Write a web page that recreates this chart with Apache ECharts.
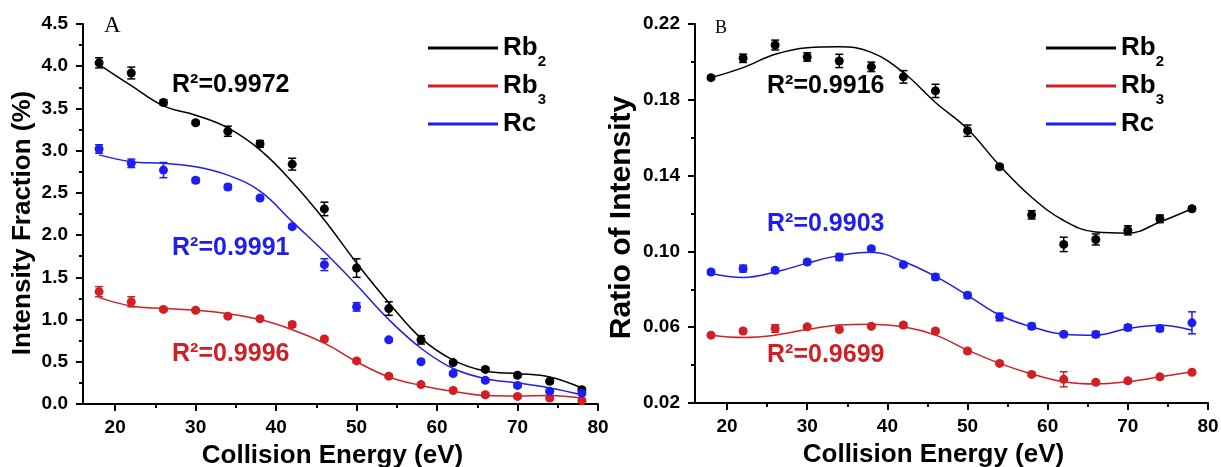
<!DOCTYPE html>
<html>
<head>
<meta charset="utf-8">
<script src="https://cdn.jsdelivr.net/npm/echarts@6.0.0/dist/echarts.min.js"></script>
<style>
    html, body { margin: 0; padding: 0; background: #fff; }
    #main { width: 1221px; height: 467px; }
</style>
</head>
<body>
<div id="main"></div>
<script>
// collision energy (eV)
let energy = [18, 22, 26, 30, 34, 38, 42, 46, 50, 54, 58, 62, 66, 70, 74, 78];
let majorTicks = [20, 30, 40, 50, 60, 70, 80];
let minorTicks = [25, 35, 45, 55, 65, 75];

// A: intensity fraction (%)
let rb2A = [4.04, 3.92, 3.57, 3.33, 3.23, 3.08, 2.84, 2.31, 1.61, 1.13, 0.76, 0.49, 0.41, 0.34, 0.27, 0.17];
let rb2ErrA = [0.06, 0.07, 0.03, 0.02, 0.06, 0.04, 0.07, 0.08, 0.11, 0.08, 0.05, 0.02, 0.02, 0.02, 0.02, 0.02];
let rb2FitA = [4.02, 3.77, 3.53, 3.42, 3.27, 3.01, 2.63, 2.18, 1.67, 1.20, 0.78, 0.52, 0.39, 0.36, 0.32, 0.19];
let rb3A = [1.33, 1.21, 1.12, 1.11, 1.04, 1.01, 0.94, 0.77, 0.51, 0.33, 0.23, 0.16, 0.11, 0.09, 0.07, 0.04];
let rb3ErrA = [0.06, 0.06, 0.02, 0.02, 0.02, 0.02, 0.03, 0.02, 0.02, 0.02, 0.02, 0.02, 0.02, 0.02, 0.02, 0.02];
let rb3FitA = [1.26, 1.16, 1.13, 1.11, 1.07, 1.00, 0.88, 0.72, 0.50, 0.32, 0.22, 0.15, 0.10, 0.095, 0.10, 0.07];
let rcA = [3.02, 2.85, 2.77, 2.65, 2.57, 2.44, 2.10, 1.65, 1.15, 0.76, 0.50, 0.36, 0.28, 0.22, 0.15, 0.13];
let rcErrA = [0.05, 0.05, 0.09, 0.03, 0.03, 0.02, 0.02, 0.07, 0.05, 0.02, 0.02, 0.02, 0.02, 0.02, 0.02, 0.02];
let rcFitA = [2.95, 2.87, 2.85, 2.81, 2.71, 2.52, 2.16, 1.80, 1.41, 1.00, 0.66, 0.42, 0.30, 0.25, 0.19, 0.11];

// B: ratio of intensity
let rb2B = [0.1917, 0.2019, 0.2089, 0.2026, 0.2005, 0.1974, 0.1921, 0.1847, 0.1637, 0.1447, 0.1193, 0.1037, 0.1063, 0.1111, 0.1172, 0.1225];
let rb2ErrB = [0.001, 0.0022, 0.0026, 0.0022, 0.0035, 0.0025, 0.0033, 0.0035, 0.003, 0.001, 0.0022, 0.0038, 0.0029, 0.0024, 0.002, 0.001];
let rb2FitB = [0.1917, 0.197, 0.204, 0.2075, 0.208, 0.205, 0.1944, 0.1786, 0.1646, 0.1453, 0.1286, 0.1163, 0.1102, 0.1096, 0.1155, 0.1225];
let rb3B = [0.0558, 0.058, 0.0593, 0.0602, 0.0588, 0.0605, 0.0611, 0.058, 0.0474, 0.0409, 0.0351, 0.0325, 0.0309, 0.0317, 0.0338, 0.0362];
let rb3ErrB = [0.0008, 0.001, 0.002, 0.001, 0.001, 0.001, 0.0012, 0.001, 0.001, 0.001, 0.001, 0.004, 0.001, 0.001, 0.001, 0.001];
let rb3FitB = [0.0558, 0.0546, 0.0558, 0.0588, 0.0611, 0.0616, 0.0602, 0.0558, 0.0479, 0.0409, 0.0353, 0.0312, 0.030, 0.0312, 0.0338, 0.0365];
let rcB = [0.0891, 0.0909, 0.090, 0.0944, 0.097, 0.1014, 0.093, 0.0865, 0.0768, 0.0654, 0.0605, 0.0563, 0.0562, 0.0598, 0.0593, 0.0623];
let rcErrB = [0.001, 0.0018, 0.0012, 0.001, 0.0018, 0.001, 0.001, 0.0015, 0.0015, 0.002, 0.0015, 0.001, 0.0015, 0.0015, 0.0015, 0.0058];
let rcFitB = [0.0883, 0.0862, 0.0891, 0.0938, 0.0979, 0.0996, 0.0947, 0.0868, 0.0768, 0.0663, 0.0602, 0.0563, 0.0558, 0.0593, 0.061, 0.0584];

let fontName = '"Liberation Sans", Arial, sans-serif';
let colorRb2 = '#000000';
let colorRb3 = '#d21f26';
let colorRc = '#1e1ef2';

function zip(xs, ys) {
    return xs.map(function (x, i) { return [x, ys[i]]; });
}

function errData(xs, ys, es) {
    return xs.map(function (x, i) { return [x, ys[i] - es[i], ys[i] + es[i]]; });
}

// vertical error bar with small caps
function renderErrorBar(params, api) {
    let x = api.value(0);
    let lo = api.coord([x, api.value(1)]);
    let hi = api.coord([x, api.value(2)]);
    let half = 4;
    let style = { stroke: api.visual('color'), lineWidth: 1.5 };
    return {
        type: 'group',
        children: [
            { type: 'line', shape: { x1: lo[0], y1: lo[1], x2: hi[0], y2: hi[1] }, style: style },
            { type: 'line', shape: { x1: lo[0] - half, y1: lo[1], x2: lo[0] + half, y2: lo[1] }, style: style },
            { type: 'line', shape: { x1: hi[0] - half, y1: hi[1], x2: hi[0] + half, y2: hi[1] }, style: style }
        ]
    };
}

function makeSeries(name, color, xIdx, yIdx, pts, errs, fit) {
    return [
        {
            name: name, type: 'line', xAxisIndex: xIdx, yAxisIndex: yIdx,
            data: zip(energy, fit), smooth: 0.4, showSymbol: false, z: 2,
            itemStyle: { color: color }, lineStyle: { color: color, width: 1.5 }
        },
        {
            name: name, type: 'custom', xAxisIndex: xIdx, yAxisIndex: yIdx,
            data: errData(energy, pts, errs), renderItem: renderErrorBar,
            encode: { x: 0, y: [1, 2] }, itemStyle: { color: color }, z: 3
        },
        {
            name: name, type: 'scatter', xAxisIndex: xIdx, yAxisIndex: yIdx,
            data: zip(energy, pts), symbolSize: 9, z: 4,
            itemStyle: { color: color, opacity: 1 }
        }
    ];
}

function xAxes(grid) {
    return [
        {
            gridIndex: grid, type: 'value', position: 'bottom', min: 16, max: 80,
            axisLine: { show: true, onZero: false, lineStyle: { color: '#000', width: 2 } },
            axisTick: { show: true, customValues: majorTicks, length: 7, lineStyle: { color: '#000', width: 2 } },
            axisLabel: { customValues: majorTicks, margin: 14, color: '#000', fontSize: 19, fontWeight: 'bold', fontFamily: fontName },
            splitLine: { show: false },
            name: 'Collision Energy (eV)', nameLocation: 'middle', nameGap: 39,
            nameTextStyle: { color: '#000', fontSize: 26, fontWeight: 'bold', fontFamily: fontName, padding: grid === 0 ? [0, 16, 0, 0] : [0, 36, 0, 0] }
        },
        {
            gridIndex: grid, type: 'value', position: 'bottom', min: 16, max: 80,
            axisLine: { show: false },
            axisTick: { show: true, customValues: minorTicks, length: 4, lineStyle: { color: '#000', width: 2 } },
            axisLabel: { show: false },
            splitLine: { show: false }
        }
    ];
}

function yAxis(grid, min, max, step, digits, name, gap, nameSize, shift) {
    return {
        gridIndex: grid, type: 'value', min: min, max: max, interval: step,
        axisLine: { show: true, lineStyle: { color: '#000', width: 2 } },
        axisTick: { show: true, length: 7, lineStyle: { color: '#000', width: 2 } },
        minorTick: { show: true, splitNumber: 2, length: 4, lineStyle: { color: '#000', width: 2 } },
        axisLabel: {
            margin: 15, color: '#000', fontSize: 19, fontWeight: 'bold', fontFamily: fontName,
            formatter: function (v) { return v.toFixed(digits); }
        },
        splitLine: { show: false },
        name: name, nameLocation: 'middle', nameGap: gap,
        nameTextStyle: { color: '#000', fontSize: nameSize, fontWeight: 'bold', fontFamily: fontName, padding: [0, shift, 0, 0] }
    };
}

function legendAt(left) {
    return {
        orient: 'vertical', left: left, top: 30, itemWidth: 70, itemHeight: 3, itemGap: 4,
        icon: 'rect', selectedMode: false, data: ['Rb2', 'Rb3', 'Rc'],
        formatter: function (name) {
            if (name === 'Rc') return '{a|Rc}';
            return '{a|Rb}{s|' + name.slice(2) + '}';
        },
        textStyle: {
            rich: {
                a: { fontSize: 26, fontWeight: 'bold', fontFamily: fontName, color: '#000', lineHeight: 42 },
                s: { fontSize: 15, fontWeight: 'bold', fontFamily: fontName, color: '#000', padding: [27, 0, 0, 0] }
            }
        }
    };
}

function label(text, left, top, color, size) {
    return {
        type: 'text', left: left, top: top,
        style: { text: text, fill: color, font: 'bold ' + size + 'px ' + fontName }
    };
}

let myChart = echarts.init(document.getElementById('main'), null, { renderer: 'canvas' });

let series = [].concat(
    makeSeries('Rb2', colorRb2, 0, 0, rb2A, rb2ErrA, rb2FitA),
    makeSeries('Rb3', colorRb3, 0, 0, rb3A, rb3ErrA, rb3FitA),
    makeSeries('Rc', colorRc, 0, 0, rcA, rcErrA, rcFitA),
    makeSeries('Rb2', colorRb2, 2, 1, rb2B, rb2ErrB, rb2FitB),
    makeSeries('Rb3', colorRb3, 2, 1, rb3B, rb3ErrB, rb3FitB),
    makeSeries('Rc', colorRc, 2, 1, rcB, rcErrB, rcFitB)
);

let option = {
    animation: false,
    backgroundColor: '#fff',
    grid: [
        { left: 83, top: 24, width: 515, height: 380, outerBoundsMode: 'none' },
        { left: 695, top: 24, width: 513, height: 379, outerBoundsMode: 'none' }
    ],
    xAxis: xAxes(0).concat(xAxes(1)),
    yAxis: [
        yAxis(0, 0, 4.5, 0.5, 1, 'Intensity Fraction (%)', 47, 26, 18),
        yAxis(1, 0.02, 0.22, 0.04, 2, 'Ratio of Intensity', 58, 30, 8)
    ],
    legend: [legendAt(423), legendAt(1041)],
    graphic: [
        { type: 'text', left: 104, top: 14, style: { text: 'A', fill: '#000', font: '23px "Liberation Serif", serif' } },
        { type: 'text', left: 715, top: 19, style: { text: 'B', fill: '#000', font: '18px "Liberation Serif", serif' } },
        label('R²=0.9972', 172, 73, colorRb2, 25),
        label('R²=0.9991', 172, 236, colorRc, 25),
        label('R²=0.9996', 172, 342, colorRb3, 25),
        label('R²=0.9916', 767, 74, colorRb2, 25),
        label('R²=0.9903', 767, 212, colorRc, 25),
        label('R²=0.9699', 767, 343, colorRb3, 25)
    ],
    series: series
};

myChart.setOption(option);
</script>
</body>
</html>
